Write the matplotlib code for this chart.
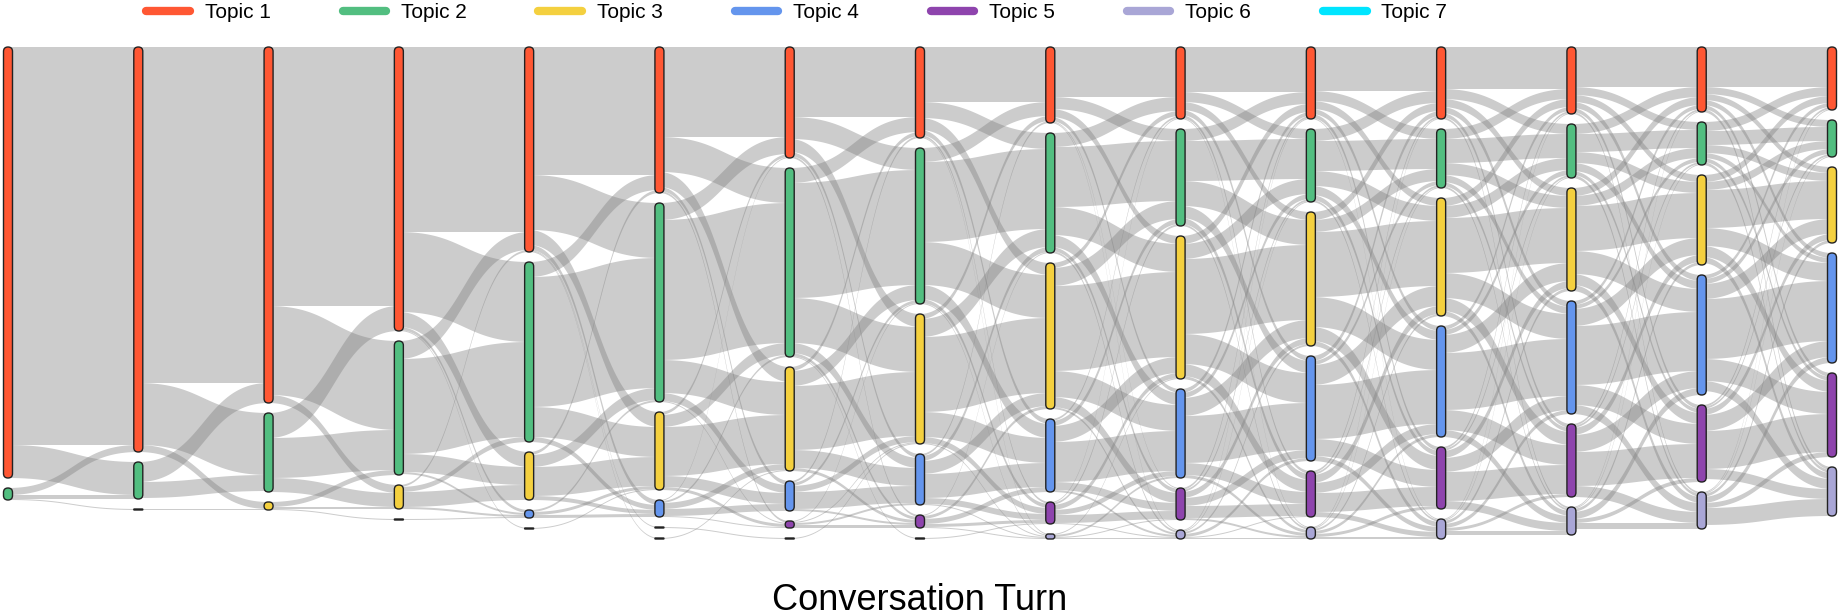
import numpy as np
import matplotlib.pyplot as plt
from matplotlib.patches import FancyBboxPatch
from matplotlib.lines import Line2D

plt.rcParams['font.family'] = ['Liberation Sans', 'DejaVu Sans']

topics = ['Topic 1', 'Topic 2', 'Topic 3', 'Topic 4', 'Topic 5', 'Topic 6', 'Topic 7']
topic_colors = ['#FF5733', '#52BE80', '#F4D03F', '#6495ED', '#8E44AD', '#A9A6D6', '#00E5FF']

# conversations moving from topic i at turn t (rows) to topic j at turn t+1 (columns)
f_0_1 = [[398, 33, 0],
         [7, 4, 1]]
f_1_2 = [[336, 62, 7],
         [20, 16, 0],
         [0, 0, 1]]
f_2_3 = [[259, 89, 8, 0],
         [25, 40, 14, 0],
         [0, 5, 2, 1]]
f_3_4 = [[185, 80, 15, 3, 1],
         [18, 95, 18, 2, 0],
         [2, 5, 15, 2, 0],
         [0, 0, 0, 1, 0]]
f_4_5 = [[128, 55, 15, 5, 1, 1],
         [15, 130, 30, 5, 0, 0],
         [3, 12, 29, 4, 0, 0],
         [0, 2, 3, 3, 0, 0],
         [0, 0, 1, 0, 0, 0]]
f_5_6 = [[90, 35, 15, 4, 2, 0],
         [17, 140, 33, 8, 1, 0],
         [3, 12, 49, 11, 3, 0],
         [1, 2, 6, 7, 1, 0],
         [0, 0, 0, 0, 0, 1],
         [0, 0, 1, 0, 0, 0]]
f_6_7 = [[70, 22, 13, 4, 2, 0],
         [15, 115, 45, 10, 3, 1],
         [4, 15, 64, 18, 3, 0],
         [2, 3, 6, 17, 2, 0],
         [0, 1, 1, 2, 3, 0],
         [0, 0, 1, 0, 0, 0]]
f_7_8 = [[55, 16, 12, 5, 2, 1],
         [14, 80, 43, 14, 4, 1],
         [5, 18, 75, 25, 6, 1],
         [2, 5, 13, 24, 6, 1],
         [0, 1, 3, 5, 3, 1],
         [0, 0, 0, 0, 1, 0]]
f_8_9 = [[50, 12, 8, 4, 1, 1],
         [14, 60, 28, 12, 4, 2],
         [5, 18, 85, 26, 10, 2],
         [2, 5, 16, 40, 8, 2],
         [1, 2, 5, 5, 8, 1],
         [0, 0, 1, 2, 1, 1]]
f_9_10 = [[45, 10, 8, 5, 3, 1],
          [12, 40, 25, 12, 6, 2],
          [8, 15, 75, 30, 12, 3],
          [4, 5, 18, 47, 12, 3],
          [2, 2, 6, 8, 12, 2],
          [1, 1, 2, 3, 1, 1]]
f_10_11 = [[44, 10, 8, 5, 4, 1],
           [12, 30, 15, 9, 5, 2],
           [8, 12, 65, 30, 14, 5],
           [5, 4, 20, 54, 17, 5],
           [2, 2, 8, 10, 19, 5],
           [1, 1, 2, 3, 3, 2]]
f_11_12 = [[42, 10, 8, 6, 4, 2],
           [10, 24, 12, 7, 4, 2],
           [8, 12, 55, 25, 13, 5],
           [4, 5, 18, 57, 20, 7],
           [2, 2, 7, 14, 29, 8],
           [1, 1, 3, 4, 3, 4]]
f_12_13 = [[40, 8, 7, 6, 4, 2],
           [10, 18, 11, 8, 4, 3],
           [8, 10, 45, 23, 11, 6],
           [4, 4, 17, 59, 20, 9],
           [2, 2, 7, 17, 34, 11],
           [1, 1, 3, 7, 4, 6]]
f_13_14 = [[40, 7, 6, 5, 4, 3],
           [9, 14, 8, 5, 4, 3],
           [7, 8, 38, 18, 11, 6],
           [4, 5, 15, 60, 22, 10],
           [2, 2, 6, 16, 38, 10],
           [1, 1, 3, 6, 5, 17]]

flows = [np.array(f) for f in [f_0_1, f_1_2, f_2_3, f_3_4, f_4_5, f_5_6, f_6_7,
                               f_7_8, f_8_9, f_9_10, f_10_11, f_11_12, f_12_13, f_13_14]]
n_turns = len(flows) + 1

# node value = max(incoming, outgoing)
sizes = []
for t in range(n_turns):
    out_v = flows[t].sum(axis=1) if t < len(flows) else None
    in_v = flows[t - 1].sum(axis=0) if t > 0 else None
    if out_v is None:
        sizes.append(in_v.astype(float))
    elif in_v is None:
        sizes.append(out_v.astype(float))
    else:
        sizes.append(np.maximum(in_v, out_v).astype(float))

gap = 10.0
tops = []
for s in sizes:
    tops.append(np.concatenate([[0], np.cumsum(s + gap)[:-1]]))

W, H = 1840, 615
fig = plt.figure(figsize=(W / 100, H / 100), dpi=100)
ax = fig.add_axes([0, 0, 1, 1])
ax.axis('off')
xpad = 8 / ((W - 16) / (n_turns - 1))
ax.set_xlim(-xpad, n_turns - 1 + xpad)
ax.set_ylim(H - 47, -47)
px_turn = W / (n_turns - 1 + 2 * xpad)

# ribbons (horizontal cubic links, control points half way)
s = np.linspace(0, 1, 60)
bx = 1.5 * s * (1 - s) + s ** 3
by = 3 * s ** 2 - 2 * s ** 3
for t, F in enumerate(flows):
    ni, nj = F.shape
    src_off = tops[t].copy()
    tgt_off = tops[t + 1].copy()
    src_pos = np.zeros((ni, nj))
    tgt_pos = np.zeros((ni, nj))
    for i in range(ni):
        for j in range(nj):
            src_pos[i, j] = src_off[i]
            src_off[i] += F[i, j]
    for j in range(nj):
        for i in range(ni):
            tgt_pos[i, j] = tgt_off[j]
            tgt_off[j] += F[i, j]
    for i in range(ni):
        for j in range(nj):
            v = F[i, j]
            if v <= 0:
                continue
            y0, y1 = src_pos[i, j], tgt_pos[i, j]
            top = y0 + (y1 - y0) * by
            bot = top + v
            xs = t + bx
            ax.fill(np.concatenate([xs, xs[::-1]]), np.concatenate([top, bot[::-1]]),
                    color='#808080', alpha=0.4, lw=0, zorder=1)

# nodes
node_w = 9 / px_turn
for t in range(n_turns):
    for k, v in enumerate(sizes[t]):
        h = max(v, 1.0)
        r = min(4.5, h / 2) / px_turn
        box = FancyBboxPatch((t - node_w / 2, tops[t][k]), node_w, h,
                             boxstyle=f"round,pad=0,rounding_size={r}",
                             mutation_aspect=px_turn,
                             fc=topic_colors[k], ec='#222222', lw=1.0, zorder=3)
        ax.add_patch(box)

handles = [Line2D([0], [0], color=c, lw=6, solid_capstyle='round') for c in topic_colors]
fig.legend(handles, topics, loc='center', bbox_to_anchor=(0.4330, 0.979), ncol=7,
           frameon=False, fontsize=15, handlelength=2.1, handletextpad=0.7,
           columnspacing=3.45, borderpad=0)

fig.text(0.5, 0.024, 'Conversation Turn', ha='center', va='center', fontsize=26)

fig.savefig('out.png', dpi=100)
